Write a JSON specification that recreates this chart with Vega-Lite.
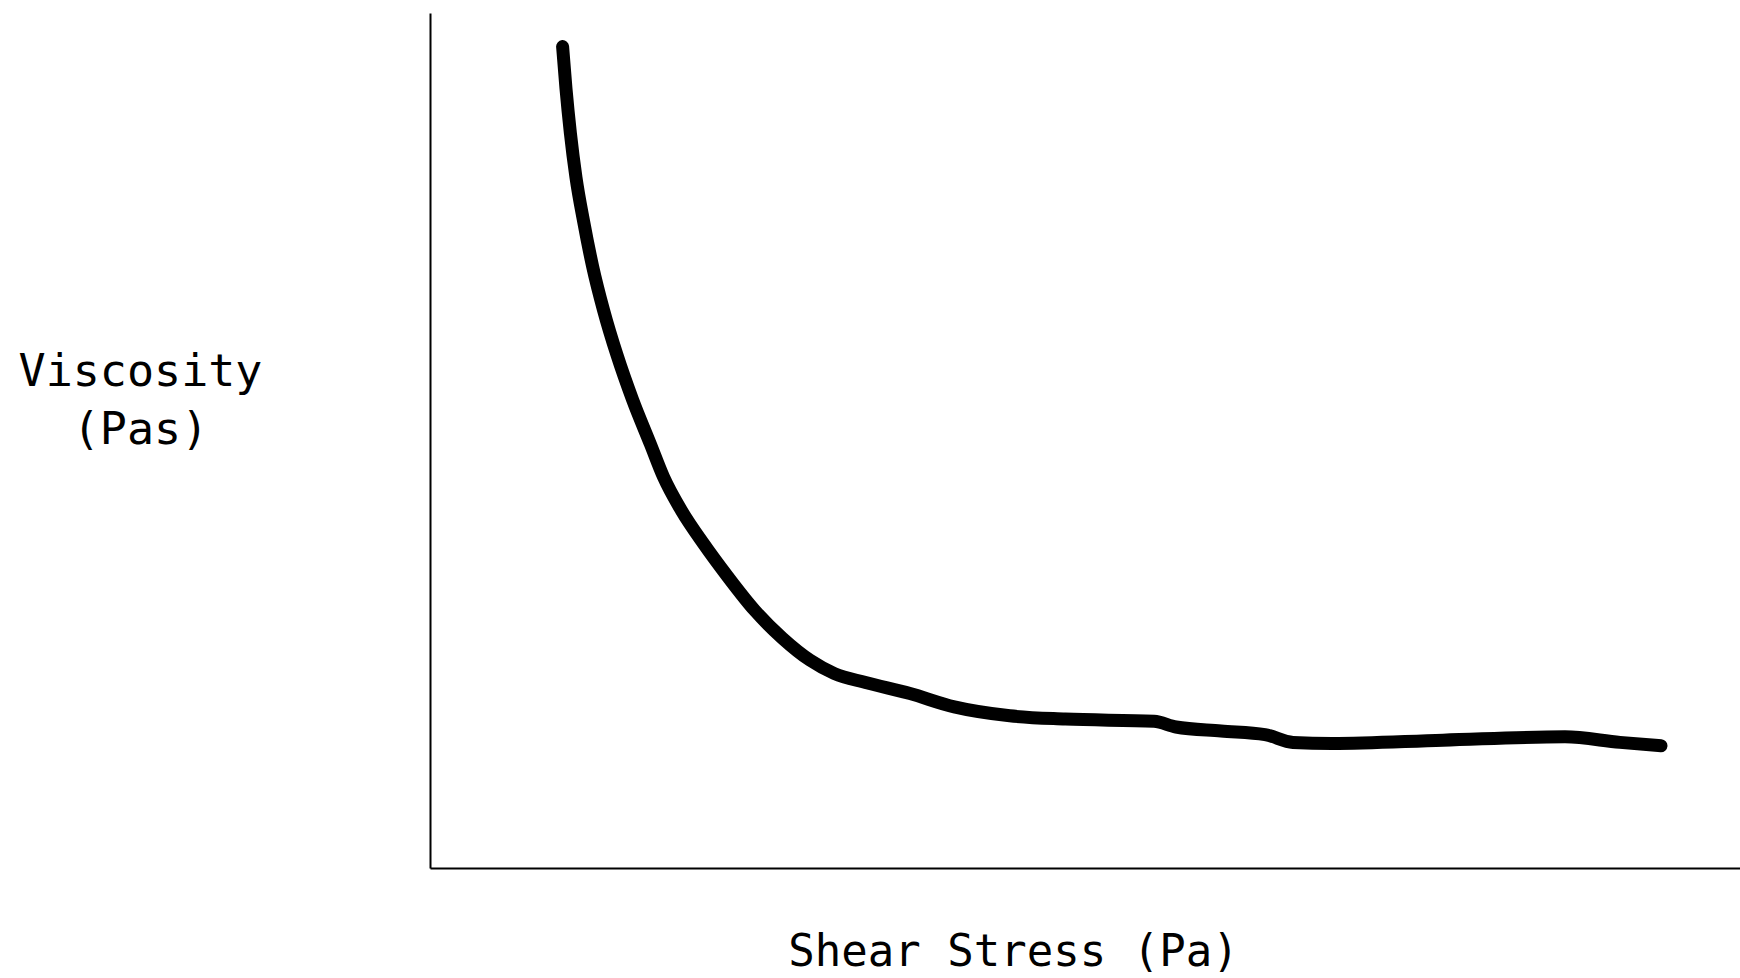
{
  "$schema": "https://vega.github.io/schema/vega-lite/v6.json",
  "width": 1310,
  "height": 855,
  "autosize": {"type": "none"},
  "padding": {"left": 430, "top": 13, "right": 0, "bottom": 110},
  "background": "white",
  "config": {
    "font": "DejaVu Sans Mono",
    "view": {"stroke": null}
  },
  "data": {
    "values": [
      {"stress": 132.6, "viscosity": 821.4},
      {"stress": 136, "viscosity": 779.2},
      {"stress": 140.4, "viscosity": 734.8},
      {"stress": 146, "viscosity": 690.4},
      {"stress": 153.7, "viscosity": 646.1},
      {"stress": 162.6, "viscosity": 601.7},
      {"stress": 173.7, "viscosity": 557.3},
      {"stress": 187, "viscosity": 512.9},
      {"stress": 202.5, "viscosity": 468.5},
      {"stress": 220.3, "viscosity": 424.1},
      {"stress": 233.6, "viscosity": 390.8},
      {"stress": 251.4, "viscosity": 357.5},
      {"stress": 273.6, "viscosity": 324.2},
      {"stress": 298, "viscosity": 291},
      {"stress": 324.6, "viscosity": 257.7},
      {"stress": 352.3, "viscosity": 229.9},
      {"stress": 380, "viscosity": 207.8},
      {"stress": 404.5, "viscosity": 194.4},
      {"stress": 435.6, "viscosity": 185.5},
      {"stress": 480, "viscosity": 174.4},
      {"stress": 524.3, "viscosity": 161.1},
      {"stress": 579.8, "viscosity": 152.2},
      {"stress": 635.3, "viscosity": 148.9},
      {"stress": 724.1, "viscosity": 146.7},
      {"stress": 746, "viscosity": 141},
      {"stress": 791, "viscosity": 137},
      {"stress": 835, "viscosity": 133.4},
      {"stress": 863, "viscosity": 125.6},
      {"stress": 902, "viscosity": 124.5},
      {"stress": 1013, "viscosity": 127.8},
      {"stress": 1135, "viscosity": 131.2},
      {"stress": 1190, "viscosity": 125.6},
      {"stress": 1231, "viscosity": 122.3}
    ]
  },
  "mark": {
    "type": "line",
    "color": "black",
    "strokeWidth": 13,
    "strokeCap": "round",
    "strokeJoin": "round",
    "interpolate": "monotone"
  },
  "encoding": {
    "x": {
      "field": "stress",
      "type": "quantitative",
      "scale": {"domain": [0, 1310], "nice": false, "zero": false},
      "axis": {
        "title": "Shear Stress (Pa)",
        "ticks": false,
        "labels": false,
        "grid": false,
        "domainColor": "black",
        "domainWidth": 2,
        "titleFont": "DejaVu Sans Mono",
        "titleFontSize": 44,
        "titleFontWeight": "normal",
        "titleColor": "black",
        "titleAlign": "center",
        "titleBaseline": "alphabetic",
        "titleX": 583,
        "titleY": 97
      }
    },
    "y": {
      "field": "viscosity",
      "type": "quantitative",
      "scale": {"domain": [0, 855], "nice": false, "zero": false},
      "axis": {
        "title": ["Viscosity", "(Pas)"],
        "ticks": false,
        "labels": false,
        "grid": false,
        "domainColor": "black",
        "domainWidth": 2,
        "titleFont": "DejaVu Sans Mono",
        "titleFontSize": 45,
        "titleFontWeight": "normal",
        "titleColor": "black",
        "titleAngle": 0,
        "titleAlign": "center",
        "titleBaseline": "alphabetic",
        "titleLineHeight": 58,
        "titleX": -290,
        "titleY": 372
      }
    }
  }
}
